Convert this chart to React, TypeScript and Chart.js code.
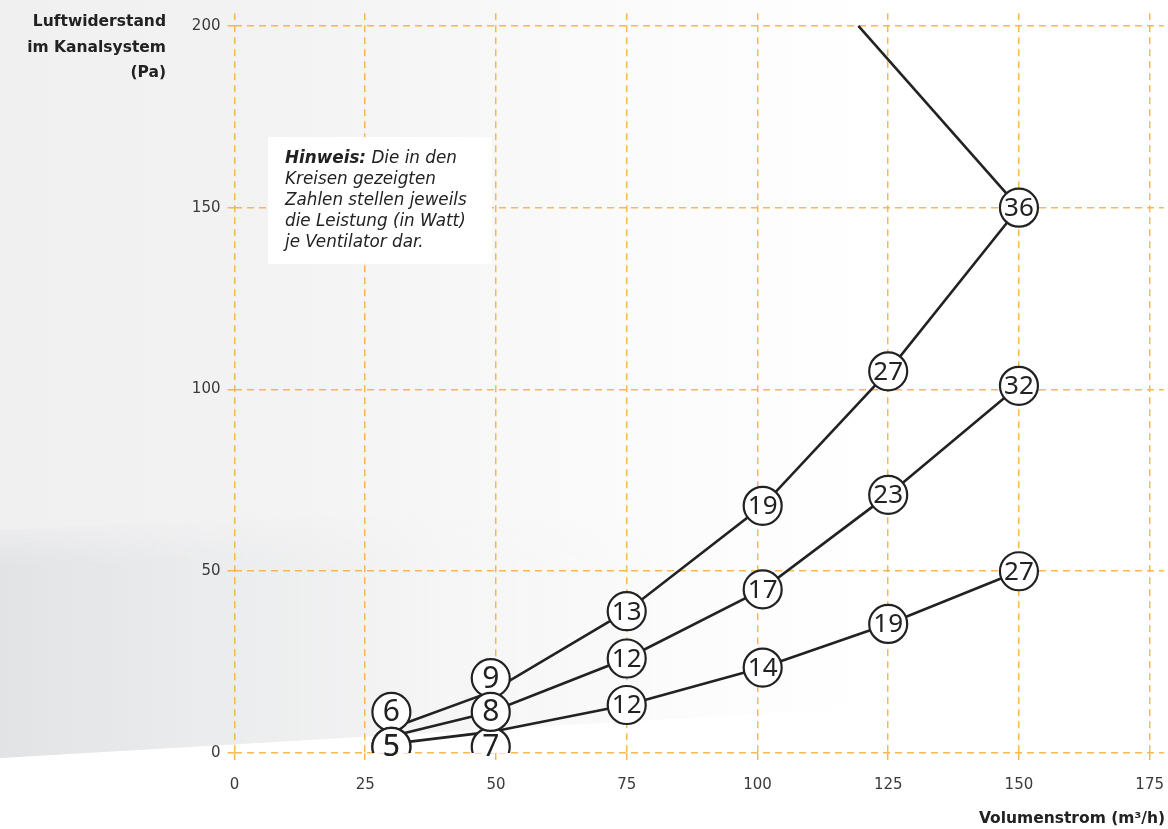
import React, { useEffect, useRef } from "react";
import { Chart, registerables } from "chart.js";

Chart.register(...registerables);

// Volumenstrom (m³/h) shared by all three fan curves
const flowX = [30, 49, 75, 101, 125, 150];

// Luftwiderstand (Pa) along each curve
const curveA = [6.8, 16.8, 39, 68, 105, 150];
const curveB = [4.6, 11.3, 26, 45, 71, 101];
const curveC = [2.5, 5.8, 13.2, 23.5, 35.5, 50];

// where the circled power labels sit (Pa); the first two are nudged apart
const circleA = [11.3, 20.6, 39, 68, 105, 150];
const circleB = [1.7, 11.3, 26, 45, 71, 101];
const circleC = [1.7, 1.7, 13.2, 23.5, 35.5, 50];

// Leistung (Watt) per point
const wattsA = [6, 9, 13, 19, 27, 36];
const wattsB = [5, 8, 12, 17, 23, 32];
const wattsC = [5, 7, 12, 14, 19, 27];

// limit line continuing from the top point
const limitX = [150, 119.3];
const limitY = [150, 200];

const xTicks = [0, 25, 50, 75, 100, 125, 150, 175];
const yTicks = [0, 50, 100, 150, 200];

const toPts = (xs: number[], ys: number[]) => xs.map((x, i) => ({ x, y: ys[i] }));

const GRID = "rgba(248,176,60,0.9)";
const LINE = "#222222";

const labelPlugin = {
  id: "circleLabels",
  afterDatasetsDraw(chart: any) {
    const ctx = chart.ctx;
    chart.data.datasets.forEach((ds: any, di: number) => {
      if (!ds.watts) return;
      const meta = chart.getDatasetMeta(di);
      meta.data.forEach((el: any, i: number) => {
        const txt = String(ds.watts[i]);
        ctx.save();
        ctx.fillStyle = LINE;
        ctx.textAlign = "center";
        ctx.textBaseline = "middle";
        ctx.font = (txt.length > 1 ? "26px" : "30px") + ' "Noto Sans", sans-serif';
        ctx.fillText(txt, el.x, el.y + 1);
        ctx.restore();
      });
    });
  },
};

export default function App() {
  const ref = useRef<HTMLCanvasElement | null>(null);

  useEffect(() => {
    if (!ref.current) return;
    const lineDs = (data: any[]) => ({
      data,
      borderColor: LINE,
      borderWidth: 2.6,
      pointRadius: 0,
      showLine: true,
      fill: false,
      tension: 0,
      order: 3,
    });
    const pointDs = (data: any[], watts: number[], order: number) => ({
      data,
      watts,
      showLine: false,
      pointRadius: 19,
      pointHoverRadius: 19,
      pointBackgroundColor: "#ffffff",
      pointBorderColor: LINE,
      pointBorderWidth: 2.2,
      order,
    });
    const chart = new Chart(ref.current, {
      type: "scatter",
      data: {
        datasets: [
          lineDs(toPts(flowX, curveA)),
          lineDs(toPts(limitX, limitY)),
          lineDs(toPts(flowX, curveB)),
          lineDs(toPts(flowX, curveC)),
          pointDs(toPts(flowX, circleB), wattsB, 0),
          pointDs(toPts(flowX, circleC), wattsC, 1),
          pointDs(toPts(flowX, circleA), wattsA, 2),
        ] as any,
      },
      options: {
        responsive: false,
        animation: false,
        layout: { padding: { left: 0, right: 5, top: 4, bottom: 0 } },
        plugins: { legend: { display: false }, tooltip: { enabled: false } },
        scales: {
          x: {
            type: "linear",
            min: 0,
            max: 177.7,
            afterBuildTicks: (s: any) => {
              s.ticks = xTicks.map((v) => ({ value: v }));
            },
            afterFit: (s: any) => {
              s.height = 76;
            },
            grid: {
              color: GRID,
              lineWidth: 1.5,
              tickLength: 10,
              tickColor: GRID,
              tickBorderDash: [7, 5],
            },
            border: { display: false, dash: [7, 5] },
            ticks: {
              color: "#3a3a3a",
              padding: 13,
              font: { family: '"DejaVu Sans", sans-serif', size: 15 },
              maxRotation: 0,
            },
          },
          y: {
            type: "linear",
            min: 0,
            max: 203.5,
            afterBuildTicks: (s: any) => {
              s.ticks = yTicks.map((v) => ({ value: v }));
            },
            afterFit: (s: any) => {
              s.width = 234.5;
            },
            grid: {
              color: GRID,
              lineWidth: 1.5,
              tickLength: 7,
              tickColor: GRID,
              tickBorderDash: [7, 5],
            },
            border: { display: false, dash: [7, 5] },
            ticks: {
              color: "#3a3a3a",
              padding: 7,
              font: { family: '"DejaVu Sans", sans-serif', size: 15 },
            },
          },
        },
      },
      plugins: [labelPlugin],
    } as any);
    return () => chart.destroy();
  }, []);

  return (
    <div
      style={{
        position: "absolute",
        left: 0,
        top: 0,
        width: 1168,
        height: 829,
        background: "#ffffff",
        overflow: "hidden",
        fontFamily: '"DejaVu Sans", sans-serif',
      }}
    >
      <div
        style={{
          position: "absolute",
          left: 0,
          top: 0,
          width: 1168,
          height: 829,
          background:
            "linear-gradient(90deg, rgba(240,240,241,1) 0%, rgba(243,243,244,1) 25%, rgba(250,250,250,1) 50%, rgba(255,255,255,1) 75%)",
          clipPath: "polygon(0 0, 1168px 0, 1168px 690px, 0 758px)",
        }}
      />
      <div
        style={{
          position: "absolute",
          left: 0,
          top: 490,
          width: 900,
          height: 270,
          background:
            "linear-gradient(90deg, rgba(226,227,229,1) 0%, rgba(234,235,236,0.85) 25%, rgba(245,245,246,0.45) 50%, rgba(255,255,255,0) 75%)",
          clipPath: "polygon(0 40px, 900px 0, 900px 215px, 0 268px)",
          WebkitMaskImage: "linear-gradient(180deg, transparent 25px, black 75px)",
          maskImage: "linear-gradient(180deg, transparent 25px, black 75px)",
        }}
      />
      <canvas
        ref={ref}
        width={1185}
        height={837}
        style={{ position: "absolute", left: 0, top: -8, width: 1185, height: 837 }}
      />
      <div
        style={{
          position: "absolute",
          left: 268,
          top: 137,
          width: 224,
          height: 127,
          background: "#ffffff",
        }}
      />
      <div
        style={{
          position: "absolute",
          left: 285,
          top: 147,
          width: 215,
          fontStyle: "italic",
          fontSize: 16.8,
          lineHeight: "21px",
          color: "#222",
          whiteSpace: "nowrap",
        }}
      >
        <b>Hinweis:</b> Die in den
        <br />
        Kreisen gezeigten
        <br />
        Zahlen stellen jeweils
        <br />
        die Leistung (in Watt)
        <br />
        je Ventilator dar.
      </div>
      <div
        style={{
          position: "absolute",
          left: 0,
          top: 9,
          width: 166,
          textAlign: "right",
          fontWeight: 700,
          fontSize: 15.5,
          lineHeight: "25.5px",
          color: "#222",
          whiteSpace: "nowrap",
        }}
      >
        Luftwiderstand
        <br />
        im Kanalsystem
        <br />
        (Pa)
      </div>
      <div
        style={{
          position: "absolute",
          right: 3,
          top: 806,
          textAlign: "right",
          fontWeight: 700,
          fontSize: 15.5,
          lineHeight: "24px",
          color: "#222",
          whiteSpace: "nowrap",
        }}
      >
        Volumenstrom (m³/h)
      </div>
    </div>
  );
}
